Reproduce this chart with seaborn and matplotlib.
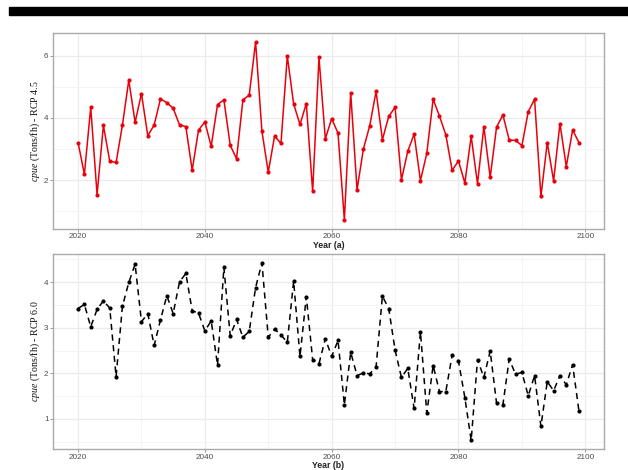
import numpy as np
import pandas as pd
import seaborn as sns
import matplotlib.pyplot as plt
from matplotlib.ticker import MultipleLocator
from matplotlib.patches import Rectangle

years = list(range(2020, 2100))

cpue_rcp45 = [3.21, 2.19, 4.34, 1.54, 3.76, 2.61, 2.57, 3.77, 5.21, 3.86,
              4.78, 3.43, 3.77, 4.61, 4.49, 4.31, 3.78, 3.72, 2.32, 3.61,
              3.87, 3.09, 4.43, 4.58, 3.12, 2.69, 4.58, 4.73, 6.44, 3.57,
              2.26, 3.42, 3.18, 5.99, 4.45, 3.79, 4.46, 1.64, 5.94, 3.33,
              3.98, 3.51, 0.73, 4.81, 1.69, 3.00, 3.75, 4.85, 3.30, 4.05,
              4.34, 2.01, 2.93, 3.48, 1.99, 2.86, 4.60, 4.06, 3.46, 2.32,
              2.62, 1.91, 3.41, 1.89, 3.72, 2.09, 3.70, 4.10, 3.29, 3.28,
              3.11, 4.20, 4.60, 1.48, 3.21, 1.98, 3.82, 2.44, 3.61, 3.21]

cpue_rcp60 = [3.42, 3.51, 3.02, 3.40, 3.59, 3.43, 1.93, 3.47, 3.99, 4.39,
              3.13, 3.31, 2.61, 3.17, 3.70, 3.31, 4.00, 4.19, 3.37, 3.32,
              2.93, 3.15, 2.18, 4.32, 2.82, 3.18, 2.79, 2.92, 3.88, 4.42,
              2.79, 2.97, 2.84, 2.68, 4.02, 2.37, 3.68, 2.30, 2.21, 2.76,
              2.37, 2.72, 1.31, 2.46, 1.95, 2.01, 1.99, 2.14, 3.69, 3.42,
              2.51, 1.91, 2.11, 1.23, 2.91, 1.13, 2.17, 1.60, 1.60, 2.40,
              2.27, 1.47, 0.53, 2.30, 1.91, 2.49, 1.35, 1.31, 2.31, 1.98,
              2.02, 1.51, 1.95, 0.84, 1.82, 1.62, 1.95, 1.75, 2.19, 1.17]

df = pd.DataFrame({"year": years, "rcp45": cpue_rcp45, "rcp60": cpue_rcp60})

sns.set_style("white")
plt.rcParams['font.family'] = ['Liberation Sans', 'DejaVu Sans']
plt.rcParams['mathtext.fontset'] = 'custom'
plt.rcParams['mathtext.it'] = 'Liberation Serif:italic'
plt.rcParams['mathtext.rm'] = 'Liberation Serif'

fig = plt.figure(figsize=(6.28, 4.70), dpi=100)
ax1 = fig.add_axes([0.0844, 0.5134, 0.8774, 0.4164])
ax2 = fig.add_axes([0.0844, 0.0440, 0.8774, 0.4156])

sns.lineplot(data=df, x="year", y="rcp45", ax=ax1, color="#E8000B", linewidth=1.1,
             marker="o", markersize=3.0, markeredgewidth=0, markerfacecolor="#E8000B")
sns.lineplot(data=df, x="year", y="rcp60", ax=ax2, color="black", linewidth=1.1,
             linestyle=(0, (4, 3)), marker="o", markersize=3.0, markeredgewidth=0,
             markerfacecolor="black")


def style_axis(ax, data, major, minor, xlab, ylab_rest):
    lo, hi = min(data), max(data)
    pad = (hi - lo) * 0.05
    ax.set_ylim(lo - pad, hi + pad)
    ax.set_xlim(2020 - 79 * 0.05, 2099 + 79 * 0.05)
    ax.xaxis.set_major_locator(MultipleLocator(20))
    ax.xaxis.set_minor_locator(MultipleLocator(10))
    ax.yaxis.set_major_locator(MultipleLocator(major))
    ax.yaxis.set_minor_locator(MultipleLocator(minor))
    ax.grid(which="major", color="#EBEBEB", linewidth=0.9)
    ax.grid(which="minor", color="#F3F3F3", linewidth=0.6)
    ax.set_axisbelow(True)
    for s in ax.spines.values():
        s.set_color("#AAAAAA")
        s.set_linewidth(1.0)
    ax.tick_params(which="major", length=2, width=0.6, color="#888888",
                   labelsize=5.9, labelcolor="#4D4D4D", pad=1.2, bottom=True, left=True)
    ax.tick_params(which="minor", length=0)
    ax.set_xlabel(xlab, fontsize=6.3, fontweight="bold", color="#222222", labelpad=0.5)
    ax.set_ylabel(r"$\it{cpue}$" + ylab_rest, fontsize=7.1, family="Liberation Serif",
                  color="#111111", labelpad=1.5)


style_axis(ax1, cpue_rcp45, 2, 1, "Year (a)", " (Tons/fh) - RCP 4.5")
style_axis(ax2, cpue_rcp60, 1, 0.5, "Year (b)", " (Tons/fh) - RCP 6.0")

fig.patches.append(Rectangle((9 / 628, 1 - 15 / 470), 1, 8 / 470,
                             transform=fig.transFigure, color="black", zorder=5))

fig.savefig("out.png", dpi=100)
